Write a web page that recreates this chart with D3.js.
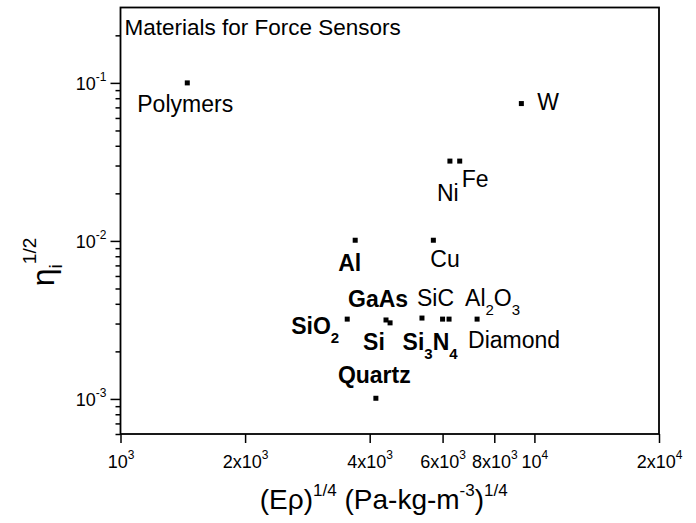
<!DOCTYPE html>
<html>
<head>
<meta charset="utf-8">
<script src="https://cdn.jsdelivr.net/npm/d3@7/dist/d3.min.js"></script>
<style>
  body { margin: 0; background: #fff; }
  text { font-family: "Liberation Sans", Arial, Helvetica, sans-serif; fill: #000; }
</style>
</head>
<body>
<div id="chart"></div>
<script>
// materials and their values
var materials = ["Polymers", "W", "Ni", "Fe", "Cu", "Al", "SiO2", "GaAs", "Si", "SiC", "Si3N4", "Al2O3", "Diamond", "Quartz"];
var ePho = [1450, 9300, 6250, 6600, 5700, 3690, 3530, 4380, 4480, 5350, 6000, 6220, 7270, 4140];
var etaSqrt = [0.1, 0.074, 0.032, 0.032, 0.0101, 0.0101, 0.0032, 0.00316, 0.00303, 0.00325, 0.0032, 0.0032, 0.0032, 0.00101];

var xTicks = [1e3, 2e3, 4e3, 6e3, 8e3, 1e4, 2e4];
var xTickLabels = [["10", "3"], ["2x10", "3"], ["4x10", "3"], ["6x10", "3"], ["8x10", "3"], ["10", "4"], ["2x10", "4"]];
var yTicks = [1e-3, 1e-2, 1e-1];
var yTickLabels = [["10", "-3"], ["10", "-2"], ["10", "-1"]];

var chartTitle = "Materials for Force Sensors";

// label text pieces: [text, "n" | "sub"], offset from the point in px, bold or not
var labelParts = [
    [["Polymers", "n"]],
    [["W", "n"]],
    [["Ni", "n"]],
    [["Fe", "n"]],
    [["Cu", "n"]],
    [["Al", "n"]],
    [["SiO", "n"], ["2", "sub"]],
    [["GaAs", "n"]],
    [["Si", "n"]],
    [["SiC", "n"]],
    [["Si", "n"], ["3", "sub"], ["N", "n"], ["4", "sub"]],
    [["Al", "n"], ["2", "sub"], ["O", "n"], ["3", "sub"]],
    [["Diamond", "n"]],
    [["Quartz", "n"]]
];
var labelBold = [false, false, false, false, false, true, true, true, true, false, true, false, false, true];
var labelOffset = [[-50, 29], [16, 6], [-13, 40], [2, 26], [-3, 27], [-17, 31], [-56, 15], [-38, -13],
                   [-27, 27], [-5, -12], [-40, 31], [16, -13], [-9, 29], [-38, -15]];

var W = 696, H = 523;
var pLeft = 120.5, pRight = 659, pTop = 7.5, pBottom = 434;

var svg = d3.select("#chart").append("svg")
    .attr("width", W)
    .attr("height", H);

var x = d3.scaleLog().domain([1e3, 2e4]).range([pLeft, pRight]);
var y = d3.scaleLog().domain([6e-4, 0.3]).range([pBottom, pTop]);

// minor y ticks: 2..9 in each decade inside the domain
var yMinor = [];
[-4, -3, -2, -1].forEach(function(e) {
    for (var m = 2; m <= 9; m++) {
        var v = m * Math.pow(10, e);
        if (v >= 6e-4 && v <= 0.3) yMinor.push(v);
    }
});

/* axes */
var xAxis = svg.append("g")
    .attr("transform", `translate(0, ${pBottom})`)
    .call(d3.axisBottom(x).tickValues(xTicks).tickSize(9).tickSizeOuter(0).tickFormat(""));

var yAxisMinor = svg.append("g")
    .attr("transform", `translate(${pLeft}, 0)`)
    .call(d3.axisLeft(y).tickValues(yMinor).tickSize(5).tickSizeOuter(0).tickFormat(""));

var yAxis = svg.append("g")
    .attr("transform", `translate(${pLeft}, 0)`)
    .call(d3.axisLeft(y).tickValues(yTicks).tickSize(10).tickSizeOuter(0).tickFormat(""));

svg.selectAll(".domain").remove();
svg.selectAll(".tick line").attr("stroke", "#000").attr("stroke-width", 1.5);

// x tick labels with superscripts
xAxis.selectAll(".tick").each(function(d, i) {
    var t = d3.select(this).append("text")
        .attr("y", 34)
        .attr("text-anchor", "middle")
        .style("font-size", "18px");
    t.append("tspan").text(xTickLabels[i][0]);
    t.append("tspan").attr("dy", -9).style("font-size", "12px").text(xTickLabels[i][1]);
});

yAxis.selectAll(".tick").each(function(d, i) {
    var t = d3.select(this).append("text")
        .attr("x", -14)
        .attr("y", 7)
        .attr("text-anchor", "end")
        .style("font-size", "18px");
    t.append("tspan").text(yTickLabels[i][0]);
    t.append("tspan").attr("dy", -9).style("font-size", "12px").text(yTickLabels[i][1]);
});

/* frame */
svg.append("rect")
    .attr("x", pLeft)
    .attr("y", pTop)
    .attr("width", pRight - pLeft)
    .attr("height", pBottom - pTop)
    .attr("fill", "none")
    .attr("stroke", "#000")
    .attr("stroke-width", 1.8);

/* title inside plot */
svg.append("text")
    .attr("x", pLeft + 4)
    .attr("y", 35)
    .style("font-size", "22.5px")
    .text(chartTitle);

/* points */
var idx = d3.range(materials.length);
var size = 5;

svg.append("g").selectAll("rect")
    .data(idx)
    .enter()
    .append("rect")
    .attr("x", i => x(ePho[i]) - size / 2)
    .attr("y", i => y(etaSqrt[i]) - size / 2)
    .attr("width", size)
    .attr("height", size)
    .attr("fill", "#000");

/* labels */
svg.append("g").selectAll("text")
    .data(idx)
    .enter()
    .append("text")
    .attr("x", i => x(ePho[i]) + labelOffset[i][0])
    .attr("y", i => y(etaSqrt[i]) + labelOffset[i][1])
    .style("font-size", "23px")
    .style("font-weight", i => labelBold[i] ? "bold" : "normal")
    .each(function(i) {
        var t = d3.select(this);
        var shift = 0;
        labelParts[i].forEach(function(p) {
            var ts = t.append("tspan").text(p[0]);
            if (p[1] === "sub") {
                ts.attr("dy", 9 - shift).style("font-size", "15px");
                shift = 9;
            } else {
                ts.attr("dy", -shift);
                shift = 0;
            }
        });
    });

/* axis titles */
var xt = svg.append("text")
    .attr("x", (pLeft + pRight) / 2 - 6)
    .attr("y", 509)
    .attr("text-anchor", "middle")
    .style("font-size", "28px");
xt.append("tspan").text("(E\u03C1)");
xt.append("tspan").attr("dy", -13).style("font-size", "17px").text("1/4");
xt.append("tspan").attr("dy", 13).text(" (Pa-kg-m");
xt.append("tspan").attr("dy", -13).style("font-size", "17px").text("-3");
xt.append("tspan").attr("dy", 13).text(")");
xt.append("tspan").attr("dy", -13).style("font-size", "17px").text("1/4");

var yt = svg.append("text")
    .attr("transform", "translate(54, 262) rotate(-90)")
    .attr("text-anchor", "middle")
    .style("font-size", "32px");
yt.append("tspan").text("\u03B7");
yt.append("tspan").attr("dy", 8).style("font-size", "19px").text("i");
yt.append("tspan").attr("dy", -26).style("font-size", "19px").text("1/2");
</script>
</body>
</html>
